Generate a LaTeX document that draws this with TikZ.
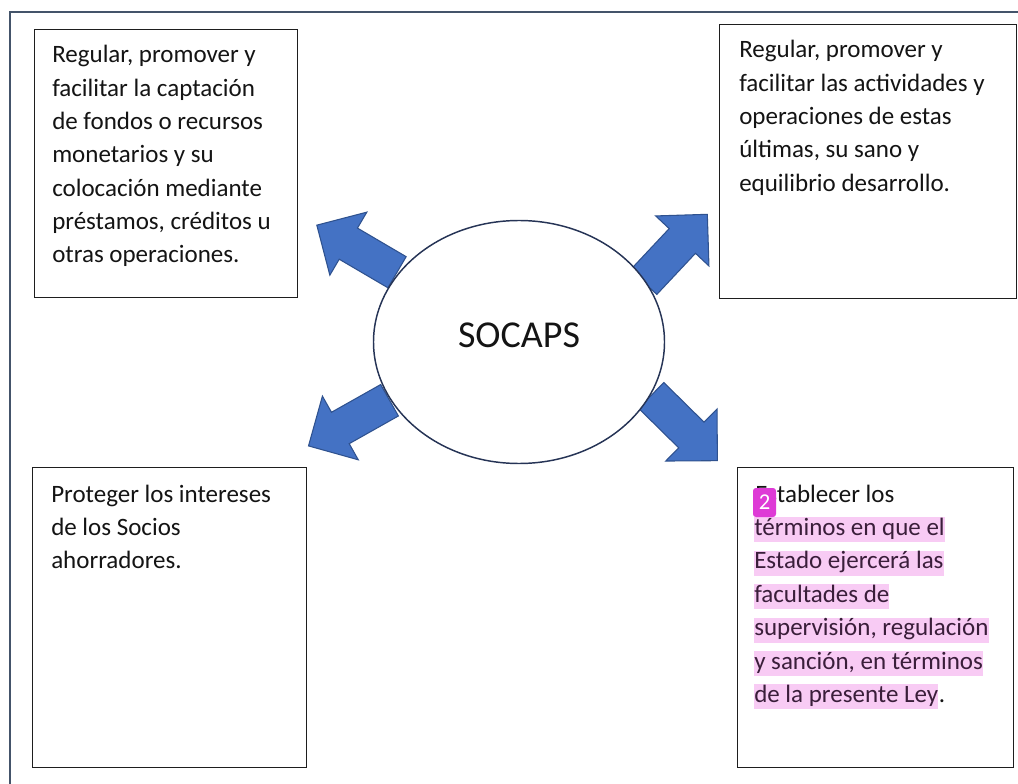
\documentclass[tikz,border=0pt]{standalone}
\usepackage{fontspec}
\setmainfont{Carlito}
\usetikzlibrary{shapes.geometric,shapes.arrows}
\definecolor{frameblue}{RGB}{68,84,106}
\definecolor{arrfill}{RGB}{68,114,196}
\definecolor{arrbd}{RGB}{47,82,143}
\definecolor{ellbd}{RGB}{38,52,86}
\definecolor{boxbd}{RGB}{30,30,30}
\definecolor{txtcol}{RGB}{20,20,20}
\definecolor{hlcol}{RGB}{248,203,244}
\definecolor{hltxt}{RGB}{58,30,58}
\definecolor{badgecol}{RGB}{222,58,214}
\begin{document}
\begin{tikzpicture}[x=0.75pt,y=-0.75pt,
  framestyle/.style={draw=frameblue,line width=2.2pt},
  boxstyle/.style={draw=boxbd,line width=1pt,fill=white,anchor=north west,inner sep=0},
  txtstyle/.style={anchor=base west,inner sep=0,align=flush left,text width={270*0.75pt},
     font=\fontsize{18.75pt}{25pt}\selectfont,text=txtcol},
  hlline/.style={anchor=base west,inner xsep=0,inner ysep=0,fill=hlcol,text=hltxt,
     text height={18*0.75pt},text depth={7*0.75pt},font=\fontsize{18.75pt}{25pt}\selectfont},
  plainline/.style={anchor=base west,inner sep=0,text=txtcol,font=\fontsize{18.75pt}{25pt}\selectfont},
  barrow/.style={single arrow,draw=arrbd,fill=arrfill,line width=0.8pt,
     minimum height={93*0.75pt},single arrow head extend={18.5*0.75pt},
     single arrow tip angle=90,inner xsep=0,inner ysep={17.5*0.75pt},minimum width=1pt,anchor=tail},
  badge/.style={fill=badgecol,rounded corners=2.2pt,minimum width={23*0.75pt},minimum height={29*0.75pt},
     inner sep=0,text=white,font=\fontsize{17pt}{18pt}\selectfont}
]
\useasboundingbox (0,0) rectangle (1018,784);
% frame
\coordinate (fA) at (10,784);
\coordinate (fB) at (10,12);
\coordinate (fC) at (1018,12);
\draw[framestyle] (fA) -- (fB) -- (fC);

% boxes
\node[boxstyle,minimum width={263*0.75pt},minimum height={268*0.75pt}] (tl) at (34,29) {};
\node[boxstyle,minimum width={297*0.75pt},minimum height={274*0.75pt}] (tr) at (719,24) {};
\node[boxstyle,minimum width={274*0.75pt},minimum height={300*0.75pt}] (bl) at (32,467) {};
\node[boxstyle,minimum width={276*0.75pt},minimum height={300*0.75pt}] (br) at (737,467) {};

% texts
\node[txtstyle] (tltext) at (52,63) {Regular, promover y\\facilitar la captación\\de fondos o recursos\\monetarios y su\\colocación mediante\\préstamos, créditos u\\otras operaciones.};
\node[txtstyle] (trtext) at (739,58) {Regular, promover y\\facilitar las actividades y\\operaciones de estas\\últimas, su sano y\\equilibrio desarrollo.};
\node[txtstyle] (bltext) at (51,502) {Proteger los intereses\\de los Socios\\ahorradores.};

\node[plainline] (br1) at (755,502) {Establecer los};
\node[hlline] (br2) at (754,535.4) {términos en que el};
\node[hlline] (br3) at (754,568.8) {Estado ejercerá las};
\node[hlline] (br4) at (754,602.2) {facultades de};
\node[hlline] (br5) at (754,635.6) {supervisión, regulación};
\node[hlline] (br6) at (754,669) {y sanción, en términos};
\node[hlline] (br7) at (754,702.4) {de la presente Ley};
\node[plainline] (br7p) at (br7.base east) {.};
\node[badge] (bdg) at (764.5,502.5) {2};

% arrows
\node[barrow,rotate=149.6] (aTL) at (397.5,272.5) {};
\node[barrow,rotate=46.8] (aTR) at (643.3,282.5) {};
\node[barrow,rotate=209.4] (aBL) at (390,400) {};
\node[barrow,rotate=-44.6] (aBR) at (650.8,395) {};

% ellipse
\node[ellipse,draw=ellbd,line width=1.1pt,fill=white,minimum width={291*0.75pt},
  minimum height={243*0.75pt},inner sep=0,text=txtcol,
  font=\fontsize{28.5pt}{30pt}\selectfont,text depth=10pt] (soc) at (519,342) {SOCAPS};
\end{tikzpicture}
\end{document}
